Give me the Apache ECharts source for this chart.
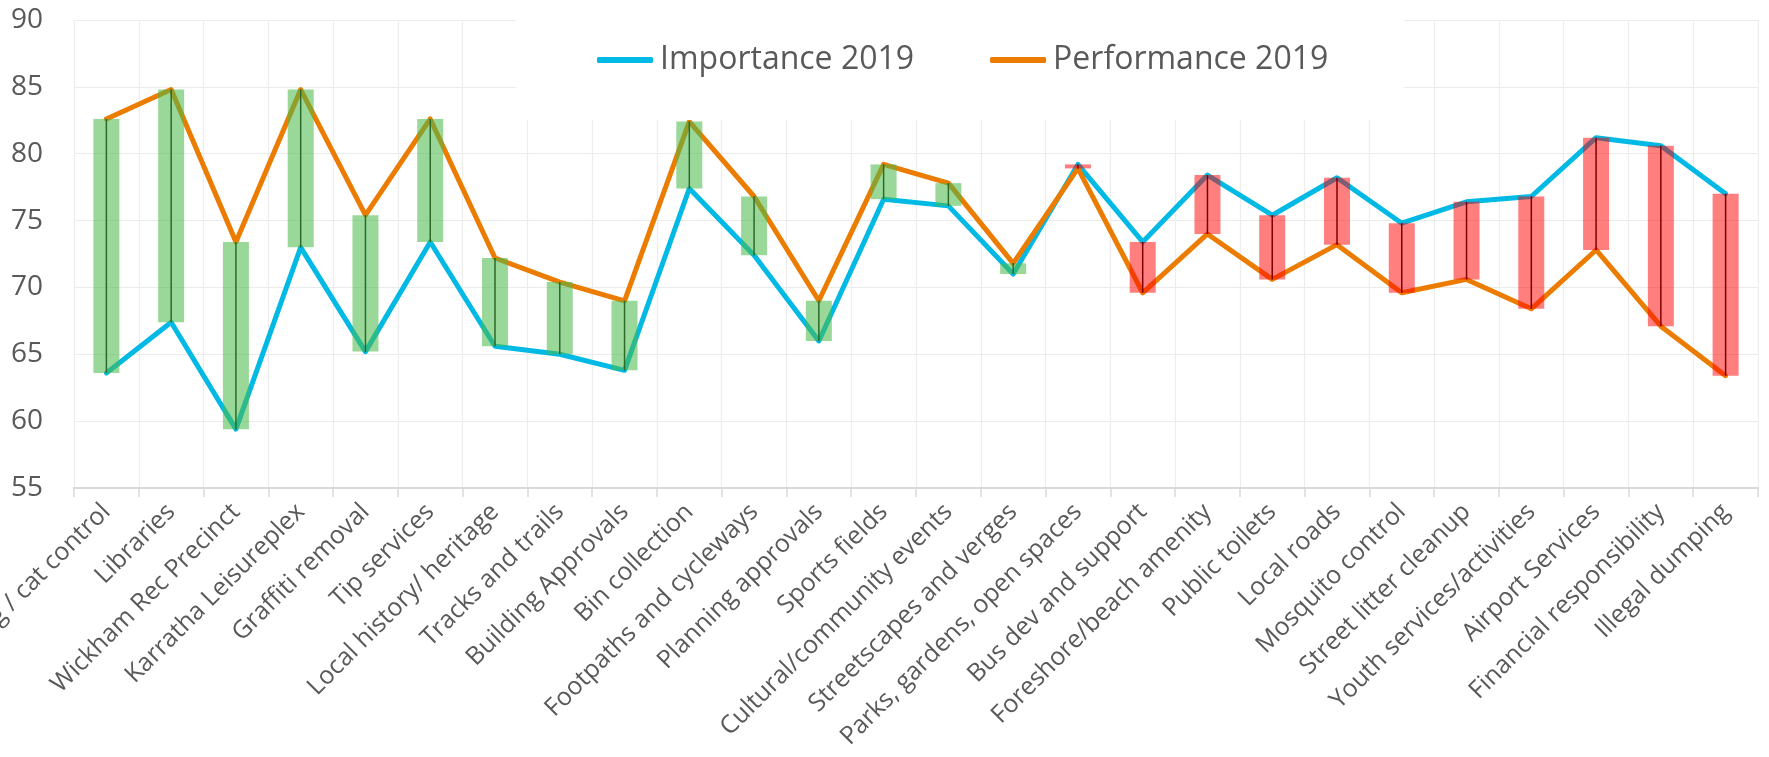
<!DOCTYPE html>
<html>
<head>
<meta charset="utf-8">
<script src="https://cdn.jsdelivr.net/npm/echarts@6/dist/echarts.min.js"></script>
<style>
  html, body { margin: 0; padding: 0; background: #fff; }
  #container { width: 1769px; height: 757px; }
</style>
</head>
<body>
<div id="container"></div>
<script>
const categories = [
  "Dog / cat control", "Libraries", "Wickham Rec Precinct", "Karratha Leisureplex",
  "Graffiti removal", "Tip services", "Local history/ heritage", "Tracks and trails",
  "Building Approvals", "Bin collection", "Footpaths and cycleways", "Planning approvals",
  "Sports fields", "Cultural/community events", "Streetscapes and verges",
  "Parks, gardens, open spaces", "Bus dev and support", "Foreshore/beach amenity",
  "Public toilets", "Local roads", "Mosquito control", "Street litter cleanup",
  "Youth services/activities", "Airport Services", "Financial responsibility", "Illegal dumping"
];

const importance2019 = [
  63.6, 67.4, 59.4, 73.0, 65.2, 73.4, 65.6, 65.0, 63.8, 77.4, 72.4, 66.0, 76.6,
  76.1, 71.0, 79.2, 73.4, 78.4, 75.4, 78.2, 74.8, 76.4, 76.8, 81.2, 80.6, 77.0
];

const performance2019 = [
  82.6, 84.8, 73.4, 84.8, 75.4, 82.6, 72.2, 70.4, 69.0, 82.4, 76.8, 69.0, 79.2,
  77.8, 71.8, 78.9, 69.6, 74.0, 70.6, 73.2, 69.6, 70.6, 68.4, 72.8, 67.1, 63.4
];

const yMin = 55;
const yMax = 90;
const yStep = 5;

const textColor = "#595959";
const font = "'Open Sans', 'Noto Sans', sans-serif";

const dom = document.getElementById("container");
const myChart = echarts.init(dom, null, { renderer: "canvas" });

// gap bars: green when performance beats importance, red otherwise
const gapData = categories.map((c, i) => [i, importance2019[i], performance2019[i]]);

function renderGap(params, api) {
  const idx = api.value(0);
  const imp = api.value(1);
  const perf = api.value(2);
  const top = api.coord([idx, Math.max(imp, perf)]);
  const bottom = api.coord([idx, Math.min(imp, perf)]);
  const barW = 26;
  const fill = perf >= imp ? "rgba(76,187,73,0.57)" : "rgba(255,0,0,0.5)";
  return {
    type: "group",
    children: [
      {
        type: "line",
        shape: { x1: top[0], y1: top[1], x2: bottom[0], y2: bottom[1] },
        style: { stroke: "#000", lineWidth: 1.5 },
      },
      {
        type: "rect",
        shape: { x: top[0] - barW / 2, y: top[1], width: barW, height: bottom[1] - top[1] },
        style: { fill: fill },
      },
    ],
  };
}

const option = {
  animation: false,
  backgroundColor: "#fff",
  textStyle: { fontFamily: font },
  grid: {
    left: 74,
    right: 11,
    top: 20,
    bottom: 269,
    containLabel: false,
    outerBoundsMode: "none",
  },
  legend: {
    data: ["Importance 2019", "Performance 2019"],
    left: 516,
    top: 0,
    padding: [38, 76, 38, 81],
    backgroundColor: "#fff",
    icon: "roundRect",
    itemWidth: 56,
    itemHeight: 6,
    itemGap: 76,
    textStyle: {
      fontFamily: font,
      fontSize: 32,
      color: textColor,
      lineHeight: 44,
      padding: [0, 0, 0, 2],
    },
  },
  xAxis: {
    type: "category",
    data: categories,
    boundaryGap: true,
    axisLine: { lineStyle: { color: "#d9d9d9", width: 2 } },
    axisTick: { show: true, length: 9, lineStyle: { color: "#d9d9d9", width: 1.5 } },
    splitLine: { show: true, lineStyle: { color: "#ededed", width: 1.2 } },
    axisLabel: {
      interval: 0,
      rotate: 45,
      margin: 20,
      fontFamily: font,
      fontSize: 25,
      color: textColor,
    },
  },
  yAxis: {
    type: "value",
    min: yMin,
    max: yMax,
    interval: yStep,
    axisLine: { show: false },
    axisTick: { show: false },
    splitLine: { show: true, lineStyle: { color: "#ebebeb", width: 1.2 } },
    axisLabel: {
      margin: 31,
      fontFamily: font,
      fontSize: 28,
      color: textColor,
    },
  },
  series: [
    {
      name: "Importance 2019",
      type: "line",
      data: importance2019,
      symbol: "none",
      lineStyle: { color: "#00B9E4", width: 5, cap: "round", join: "round" },
      itemStyle: { color: "#00B9E4" },
      z: 2,
    },
    {
      name: "Performance 2019",
      type: "line",
      data: performance2019,
      symbol: "none",
      lineStyle: { color: "#EC7C00", width: 5, cap: "round", join: "round" },
      itemStyle: { color: "#EC7C00" },
      z: 2,
    },
    {
      name: "Gap",
      type: "custom",
      data: gapData,
      renderItem: renderGap,
      encode: { x: 0, y: [1, 2] },
      z: 3,
    },
  ],
};

myChart.setOption(option);
window.addEventListener("resize", myChart.resize);
</script>
</body>
</html>
